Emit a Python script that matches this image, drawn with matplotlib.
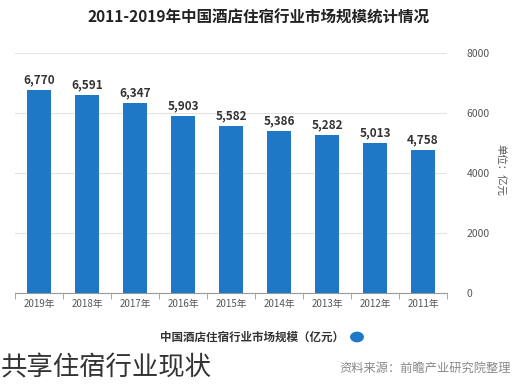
import matplotlib.pyplot as plt
import numpy as np

plt.rcParams['font.family'] = ['Noto Sans CJK SC', 'DejaVu Sans']

# données
annees = ['2011年', '2012年', '2013年', '2014年', '2015年', '2016年', '2017年', '2018年', '2019年']
valeurs = [4758, 5013, 5282, 5386, 5582, 5903, 6347, 6591, 6770]
yticks = [0, 2000, 4000, 6000, 8000]

titre = '2011-2019年中国酒店住宿行业市场规模统计情况'
legende = '中国酒店住宿行业市场规模（亿元）'
source = '资料来源：前瞻产业研究院整理'
legende_photo = '共享住宿行业现状'

bleu = '#1f78c6'

fig = plt.figure(figsize=(5.19, 3.88), dpi=100)
ax = fig.add_axes([15/519, 95/388, 432/519, 240/388])

x = np.arange(len(annees))
ax.bar(x, valeurs, width=0.48, color=bleu, zorder=3)
for xi, v in zip(x, valeurs):
    ax.text(xi, v + 120, f'{v:,}', ha='center', va='bottom', fontsize=8.5,
            color='#333333', fontweight='bold')

# image en miroir : 2019 à gauche, axe des y à droite
ax.set_xlim(-0.5, len(annees) - 0.5)
ax.invert_xaxis()
ax.set_ylim(0, 8000)
ax.set_xticks(x)
ax.set_xticklabels(annees, fontsize=7, color='#555555')
ax.set_xticks(np.arange(-0.5, len(annees)), minor=True)
ax.tick_params(axis='x', which='major', length=0, pad=4)
ax.tick_params(axis='x', which='minor', length=4, color='#999999')

ax.yaxis.tick_right()
ax.set_yticks(yticks)
ax.set_yticklabels([str(t) for t in yticks], fontsize=7.5, color='#555555')
ax.tick_params(axis='y', length=0, pad=14)
ax.grid(axis='y', color='#e3e3e3', linewidth=0.8, zorder=0)

for s in ['top', 'left', 'right']:
    ax.spines[s].set_visible(False)
ax.spines['bottom'].set_color('#999999')

fig.text(500/519, 1 - 170/388, '单位：亿元', rotation=270, ha='center', va='center',
         fontsize=7.5, color='#555555')

fig.text(259/519, 1 - 18/388, titre, ha='center', va='center', fontsize=11.2,
         fontweight='bold', color='#222222')

# légende
fig.text(344/519, 1 - 337/388, legende, ha='right', va='center', fontsize=8.3,
         fontweight='bold', color='#333333')
fig.patches.append(plt.Circle((357/519, 1 - 337/388), 0.012, color=bleu,
                              transform=fig.transFigure, figure=fig))

fig.text(511/519, 1 - 368/388, source, ha='right', va='center', fontsize=8.8,
         color='#888888')
fig.text(1/519, 1 - 368/388, legende_photo, ha='left', va='center', fontsize=19,
         color='#333333')

fig.savefig('out.png', dpi=100)
